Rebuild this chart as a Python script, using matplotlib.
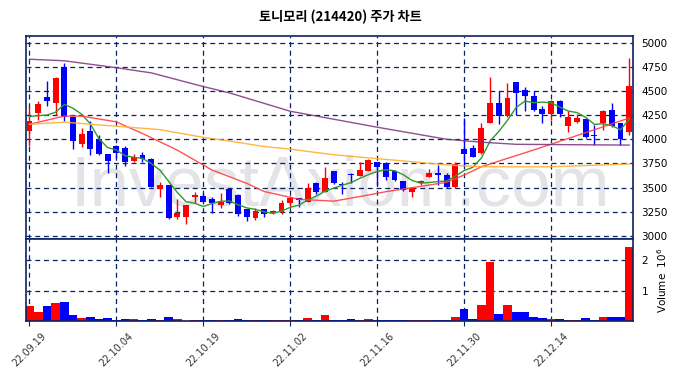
import numpy as np
import pandas as pd
import matplotlib
matplotlib.use('Agg')
import matplotlib.pyplot as plt

# daily candles, 22.09.19 .. 22.12.27 (70 trading days)
opens = [4090, 4275, 4440, 4377, 4750, 4235, 3950, 4085, 4000, 3850,
         3930, 3910, 3780, 3835, 3800, 3485, 3525, 3195, 3200, 3400,
         3415, 3380, 3325, 3490, 3425, 3275, 3185, 3275, 3235, 3250,
         3340, 3390, 3355, 3550, 3460, 3670, 3535, 3645, 3625, 3675,
         3765, 3750, 3675, 3565, 3450, 3545, 3610, 3650, 3635, 3505,
         3900, 3910, 3855, 4170, 4380, 4240, 4590, 4505, 4450, 4315,
         4265, 4400, 4135, 4175, 4210, 4045, 4165, 4305, 4165, 4080]
highs = [4340, 4395, 4600, 4640, 4790, 4240, 4115, 4185, 4045, 3850,
         3945, 3930, 3845, 3865, 3805, 3560, 3530, 3380, 3325, 3450,
         3440, 3400, 3440, 3495, 3430, 3280, 3285, 3280, 3270, 3370,
         3410, 3395, 3545, 3555, 3710, 3675, 3560, 3650, 3760, 3795,
         3765, 3760, 3680, 3570, 3510, 3575, 3695, 3730, 3650, 3765,
         4215, 3940, 4170, 4645, 4495, 4580, 4595, 4540, 4495, 4340,
         4405, 4405, 4295, 4260, 4215, 4150, 4300, 4375, 4170, 4845]
lows = [3930, 4200, 4340, 4250, 4190, 3895, 3925, 3835, 3835, 3655,
        3805, 3725, 3760, 3760, 3505, 3405, 3175, 3180, 3125, 3345,
        3350, 3240, 3285, 3335, 3205, 3160, 3170, 3200, 3230, 3230,
        3300, 3300, 3350, 3435, 3455, 3535, 3435, 3545, 3620, 3670,
        3530, 3580, 3565, 3465, 3405, 3530, 3605, 3530, 3500, 3500,
        3720, 3815, 3850, 4165, 4160, 4235, 4255, 4295, 4290, 4165,
        4195, 4235, 4080, 4165, 4015, 3940, 4095, 4130, 3940, 4045]
closes = [4185, 4365, 4395, 4630, 4230, 3985, 4055, 3900, 3850, 3780,
          3860, 3760, 3820, 3795, 3510, 3525, 3185, 3240, 3320, 3425,
          3355, 3340, 3355, 3340, 3225, 3195, 3260, 3230, 3260, 3340,
          3390, 3375, 3495, 3460, 3595, 3550, 3525, 3630, 3680, 3790,
          3710, 3615, 3580, 3475, 3495, 3565, 3650, 3630, 3505, 3745,
          3850, 3820, 4115, 4380, 4240, 4430, 4480, 4445, 4300, 4265,
          4400, 4260, 4235, 4220, 4020, 4035, 4295, 4135, 4005, 4555]
volumes = [480000, 290000, 480000, 590000, 620000, 210000, 110000, 140000, 80000, 110000,
           30000, 80000, 80000, 45000, 80000, 45000, 140000, 80000, 10000, 15000,
           15000, 45000, 45000, 20000, 80000, 45000, 15000, 15000, 15000, 40000,
           40000, 15000, 110000, 45000, 180000, 45000, 45000, 80000, 45000, 80000,
           45000, 45000, 15000, 45000, 45000, 45000, 15000, 15000, 15000, 140000,
           410000, 80000, 510000, 1940000, 240000, 510000, 280000, 310000, 140000, 110000,
           80000, 80000, 45000, 45000, 110000, 45000, 140000, 140000, 140000, 2460000]

# moving averages (longer ones start before the window)
ma5_head = [4235, 4245, 4250, 4280]
ma20_idx = [0, 4, 6, 10, 13, 17, 21, 25, 27, 31, 35, 39, 41, 48, 50, 52, 55, 58, 62, 66, 69]
ma20_val = [4155, 4240, 4240, 4180, 4060, 3888, 3682, 3544, 3460, 3380, 3360, 3424, 3458,
            3555, 3630, 3716, 3803, 3889, 4009, 4129, 4220]
ma60_idx = [0, 4, 10, 15, 20, 23, 27, 30, 35, 40, 45, 48, 52, 60, 69]
ma60_val = [4155, 4177, 4135, 4100, 4020, 3982, 3925, 3898, 3840, 3800, 3760, 3735, 3716, 3716, 3744]
ma120_idx = [0, 4, 10, 14, 20, 23, 30, 40, 48, 52, 56, 69]
ma120_val = [4828, 4812, 4740, 4687, 4545, 4480, 4290, 4125, 4000, 3970, 3948, 3940]

tick_pos = [0, 10, 20, 30, 40, 50, 60]
tick_labels = ['22.09.19', '22.10.04', '22.10.19', '22.11.02', '22.11.16', '22.11.30', '22.12.14']

navy = '#0b2360'
x = np.arange(len(closes))
o = np.array(opens)
c = np.array(closes)
up = c >= o
cols = np.where(up, '#ff0000', '#0000ff')

ma5 = pd.Series(closes).rolling(5).mean().to_numpy()
ma5[:4] = ma5_head

fig = plt.figure(figsize=(6.8, 3.78), dpi=100)
ax = fig.add_axes([0.038, 0.367, 0.893, 0.538])
axv = fig.add_axes([0.038, 0.151, 0.893, 0.216], sharex=ax)

for a in (ax, axv):
    a.set_axisbelow(True)
    a.grid(True, color=navy, linestyle=(0, (4, 3)), linewidth=0.9)
    for s in a.spines.values():
        s.set_color(navy)
        s.set_linewidth(1.2)
    a.yaxis.tick_right()
    a.tick_params(axis='y', length=0, labelsize=7.5, pad=6)

ax.text(0.5, 0.503, 'InvestAxiom.com', transform=fig.transFigure, ha='center', va='center',
        fontsize=51, family='Liberation Sans', color='#e3e3e8', zorder=0.1)

ax.vlines(x, lows, highs, color=cols, linewidth=1.0, zorder=2)
ax.bar(x, np.abs(c - o), bottom=np.minimum(o, c), width=0.68, color=cols, zorder=2)

ax.plot(x, ma5, color='#2e9a2e', linewidth=1.0, zorder=3)
ax.plot(ma20_idx, ma20_val, color='#ff4040', linewidth=1.0, alpha=0.9, zorder=3)
ax.plot(ma60_idx, ma60_val, color='#ffae30', linewidth=1.0, alpha=0.9, zorder=3)
ax.plot(ma120_idx, ma120_val, color='#7b2f7b', linewidth=1.0, alpha=0.85, zorder=3)

ax.set_ylim(2966, 5069)
ax.set_yticks(np.arange(3000, 5001, 250))
ax.set_xlim(-0.42, 69.45)
ax.tick_params(axis='x', labelbottom=False, length=0)

axv.bar(x, volumes, width=1.0, color=cols, zorder=2)
axv.set_ylim(0, 2.7e6)
axv.set_yticks([1e6, 2e6])
axv.set_yticklabels(['1', '2'])
axv.yaxis.set_label_position('right')
axv.set_ylabel('Volume  $10^6$', fontsize=7.5, labelpad=5)
axv.set_xticks(tick_pos)
axv.set_xticklabels(tick_labels, rotation=45, fontsize=7, color='#333333')
axv.tick_params(axis='x', length=3.5, color=navy)

fig.suptitle('토니모리 (214420) 주가 차트', y=0.975, fontsize=9.5, fontweight='bold',
             family=['Noto Sans CJK KR', 'DejaVu Sans'])

fig.savefig('out.png', dpi=100)
